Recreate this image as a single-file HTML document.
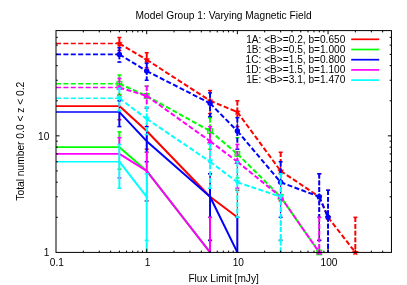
<!DOCTYPE html>
<html><head><meta charset="utf-8"><title>Model Group 1</title>
<style>
html,body{margin:0;padding:0;background:#fff;}
body{width:407px;height:285px;overflow:hidden;}
svg{display:block;font-family:"Liberation Sans",sans-serif;fill:#000;will-change:transform;}
svg line,svg polyline,svg path,svg rect,svg circle{shape-rendering:auto;}
</style></head><body>
<svg width="407" height="285" viewBox="0 0 407 285">
<rect x="0" y="0" width="407" height="285" fill="#fff" stroke="none"/>
<g>
<line x1="56" y1="43.5" x2="119.39" y2="43.5" stroke="#ff0000" stroke-width="1.6" stroke-dasharray="5.0 2.4"/>
<line x1="119.39" y1="43.5" x2="146.69" y2="59.72" stroke="#ff0000" stroke-width="2.0" stroke-dasharray="5.0 2.4"/>
<line x1="146.69" y1="59.72" x2="210.08" y2="100.77" stroke="#ff0000" stroke-width="2.0" stroke-dasharray="5.0 2.4"/>
<line x1="210.08" y1="100.77" x2="237.37" y2="112.06" stroke="#ff0000" stroke-width="2.0" stroke-dasharray="5.0 2.4"/>
<line x1="237.37" y1="112.06" x2="280.64" y2="170.94" stroke="#ff0000" stroke-width="2.0" stroke-dasharray="5.0 2.4"/>
<line x1="280.64" y1="170.94" x2="319.27" y2="196.79" stroke="#ff0000" stroke-width="2.0" stroke-dasharray="5.0 2.4"/>
<line x1="319.27" y1="196.79" x2="328.06" y2="217.32" stroke="#ff0000" stroke-width="2.0" stroke-dasharray="5.0 2.4"/>
<line x1="328.06" y1="217.32" x2="355.36" y2="252.4" stroke="#ff0000" stroke-width="2.0" stroke-dasharray="5.0 2.4"/>
<line x1="119.39" y1="37.45" x2="119.39" y2="50.38" stroke="#ff0000" stroke-width="1.1" stroke-dasharray="4.8 1.9"/>
<line x1="119.39" y1="37.45" x2="119.39" y2="47.69" stroke="#ff0000" stroke-width="1.9" stroke-dasharray="4.8 1.9"/>
<line x1="117.39" y1="37.45" x2="121.39" y2="37.45" stroke="#ff0000" stroke-width="1.5"/>
<line x1="117.39" y1="50.38" x2="121.39" y2="50.38" stroke="#ff0000" stroke-width="1.5"/>
<line x1="146.69" y1="52.69" x2="146.69" y2="67.89" stroke="#ff0000" stroke-width="1.1" stroke-dasharray="4.8 1.9"/>
<line x1="146.69" y1="52.69" x2="146.69" y2="63.21" stroke="#ff0000" stroke-width="1.9" stroke-dasharray="4.8 1.9"/>
<line x1="144.69" y1="52.69" x2="148.69" y2="52.69" stroke="#ff0000" stroke-width="1.5"/>
<line x1="144.69" y1="67.89" x2="148.69" y2="67.89" stroke="#ff0000" stroke-width="1.5"/>
<line x1="210.08" y1="90.55" x2="210.08" y2="113.58" stroke="#ff0000" stroke-width="1.1" stroke-dasharray="4.8 1.9"/>
<line x1="210.08" y1="90.55" x2="210.08" y2="92.91" stroke="#ff0000" stroke-width="1.9" stroke-dasharray="4.8 1.9"/>
<line x1="208.08" y1="90.55" x2="212.08" y2="90.55" stroke="#ff0000" stroke-width="1.5"/>
<line x1="208.08" y1="113.58" x2="212.08" y2="113.58" stroke="#ff0000" stroke-width="1.5"/>
<line x1="237.37" y1="100.77" x2="237.37" y2="126.62" stroke="#ff0000" stroke-width="1.1" stroke-dasharray="4.8 1.9"/>
<line x1="237.37" y1="100.77" x2="237.37" y2="117.69" stroke="#ff0000" stroke-width="1.9" stroke-dasharray="4.8 1.9"/>
<line x1="235.37" y1="100.77" x2="239.37" y2="100.77" stroke="#ff0000" stroke-width="1.5"/>
<line x1="235.37" y1="126.62" x2="239.37" y2="126.62" stroke="#ff0000" stroke-width="1.5"/>
<line x1="280.64" y1="152.23" x2="280.64" y2="200.94" stroke="#ff0000" stroke-width="1.1" stroke-dasharray="4.8 1.9"/>
<line x1="280.64" y1="152.23" x2="280.64" y2="161.71" stroke="#ff0000" stroke-width="1.9" stroke-dasharray="4.8 1.9"/>
<line x1="278.64" y1="152.23" x2="282.64" y2="152.23" stroke="#ff0000" stroke-width="1.5"/>
<line x1="278.64" y1="200.94" x2="282.64" y2="200.94" stroke="#ff0000" stroke-width="1.5"/>
<line x1="319.27" y1="173.72" x2="319.27" y2="240.38" stroke="#ff0000" stroke-width="1.1" stroke-dasharray="4.8 1.9"/>
<line x1="317.27" y1="173.72" x2="321.27" y2="173.72" stroke="#ff0000" stroke-width="1.5"/>
<line x1="317.27" y1="240.38" x2="321.27" y2="240.38" stroke="#ff0000" stroke-width="1.5"/>
<line x1="328.06" y1="190.25" x2="328.06" y2="252.4" stroke="#ff0000" stroke-width="1.1" stroke-dasharray="4.8 1.9"/>
<line x1="326.06" y1="190.25" x2="330.06" y2="190.25" stroke="#ff0000" stroke-width="1.5"/>
<line x1="355.36" y1="217.32" x2="355.36" y2="252.4" stroke="#ff0000" stroke-width="1.1" stroke-dasharray="4.8 1.9"/>
<line x1="355.36" y1="217.32" x2="355.36" y2="252.4" stroke="#ff0000" stroke-width="1.9" stroke-dasharray="4.8 1.9"/>
<line x1="353.36" y1="217.32" x2="357.36" y2="217.32" stroke="#ff0000" stroke-width="1.5"/>
<polygon points="119.39,39.9 120.45,42.05 122.81,42.39 121.1,44.06 121.5,46.41 119.39,45.3 117.27,46.41 117.68,44.06 115.96,42.39 118.33,42.05" fill="#ff0000"/>
<polygon points="146.69,56.12 147.75,58.27 150.11,58.61 148.4,60.28 148.8,62.64 146.69,61.52 144.57,62.64 144.98,60.28 143.26,58.61 145.63,58.27" fill="#ff0000"/>
<polygon points="210.08,97.17 211.13,99.31 213.5,99.66 211.79,101.32 212.19,103.68 210.08,102.57 207.96,103.68 208.36,101.32 206.65,99.66 209.02,99.31" fill="#ff0000"/>
<polygon points="237.37,108.46 238.43,110.61 240.8,110.95 239.09,112.62 239.49,114.98 237.37,113.86 235.26,114.98 235.66,112.62 233.95,110.95 236.32,110.61" fill="#ff0000"/>
<polygon points="280.64,167.34 281.7,169.48 284.07,169.82 282.36,171.49 282.76,173.85 280.64,172.74 278.53,173.85 278.93,171.49 277.22,169.82 279.59,169.48" fill="#ff0000"/>
<polygon points="319.27,193.19 320.33,195.34 322.7,195.68 320.99,197.35 321.39,199.71 319.27,198.59 317.16,199.71 317.56,197.35 315.85,195.68 318.22,195.34" fill="#ff0000"/>
<polygon points="328.06,213.72 329.12,215.86 331.49,216.2 329.77,217.87 330.18,220.23 328.06,219.12 325.95,220.23 326.35,217.87 324.64,216.2 327,215.86" fill="#ff0000"/>
<polygon points="355.36,248.8 356.42,250.94 358.79,251.29 357.07,252.96 357.48,255.31 355.36,254.2 353.25,255.31 353.65,252.96 351.94,251.29 354.3,250.94" fill="#ff0000"/>
<line x1="56" y1="106.1" x2="119.89" y2="106.1" stroke="#ff0000" stroke-width="1.6"/>
<polyline points="119.39,106.1 146.69,131.03 210.08,196.79 237.37,217.32" fill="none" stroke="#ff0000" stroke-width="2.0" stroke-linejoin="round"/>
<line x1="119.39" y1="95.39" x2="119.39" y2="119.71" stroke="#ff0000" stroke-width="1.1"/>
<line x1="117.39" y1="95.39" x2="121.39" y2="95.39" stroke="#ff0000" stroke-width="1.5"/>
<line x1="117.39" y1="119.71" x2="121.39" y2="119.71" stroke="#ff0000" stroke-width="1.5"/>
<line x1="146.69" y1="117.69" x2="146.69" y2="149.19" stroke="#ff0000" stroke-width="1.1"/>
<line x1="144.69" y1="117.69" x2="148.69" y2="117.69" stroke="#ff0000" stroke-width="1.5"/>
<line x1="144.69" y1="149.19" x2="148.69" y2="149.19" stroke="#ff0000" stroke-width="1.5"/>
<line x1="210.08" y1="173.72" x2="210.08" y2="240.38" stroke="#ff0000" stroke-width="1.1"/>
<line x1="208.08" y1="173.72" x2="212.08" y2="173.72" stroke="#ff0000" stroke-width="1.5"/>
<line x1="208.08" y1="240.38" x2="212.08" y2="240.38" stroke="#ff0000" stroke-width="1.5"/>
<line x1="237.37" y1="190.25" x2="237.37" y2="252.4" stroke="#ff0000" stroke-width="1.1"/>
<line x1="235.37" y1="190.25" x2="239.37" y2="190.25" stroke="#ff0000" stroke-width="1.5"/>
<line x1="56" y1="83.74" x2="119.39" y2="83.74" stroke="#00ff00" stroke-width="1.6" stroke-dasharray="5.0 2.4"/>
<line x1="119.39" y1="83.74" x2="146.69" y2="95.94" stroke="#00ff00" stroke-width="2.0" stroke-dasharray="5.0 2.4"/>
<line x1="146.69" y1="95.94" x2="210.08" y2="131.03" stroke="#00ff00" stroke-width="2.0" stroke-dasharray="5.0 2.4"/>
<line x1="210.08" y1="131.03" x2="237.37" y2="153.91" stroke="#00ff00" stroke-width="2.0" stroke-dasharray="5.0 2.4"/>
<line x1="237.37" y1="153.91" x2="280.64" y2="196.79" stroke="#00ff00" stroke-width="2.0" stroke-dasharray="5.0 2.4"/>
<line x1="280.64" y1="196.79" x2="319.27" y2="252.4" stroke="#00ff00" stroke-width="2.0" stroke-dasharray="5.0 2.4" stroke-dashoffset="3.8"/>
<line x1="119.39" y1="74.98" x2="119.39" y2="94.34" stroke="#00ff00" stroke-width="1.1" stroke-dasharray="4.8 1.9"/>
<line x1="119.39" y1="74.98" x2="119.39" y2="78.42" stroke="#00ff00" stroke-width="1.9" stroke-dasharray="4.8 1.9"/>
<line x1="117.39" y1="74.98" x2="121.39" y2="74.98" stroke="#00ff00" stroke-width="1.5"/>
<line x1="117.39" y1="94.34" x2="121.39" y2="94.34" stroke="#00ff00" stroke-width="1.5"/>
<line x1="146.69" y1="86.16" x2="146.69" y2="108.08" stroke="#00ff00" stroke-width="1.1" stroke-dasharray="4.8 1.9"/>
<line x1="144.69" y1="86.16" x2="148.69" y2="86.16" stroke="#00ff00" stroke-width="1.5"/>
<line x1="144.69" y1="108.08" x2="148.69" y2="108.08" stroke="#00ff00" stroke-width="1.5"/>
<line x1="210.08" y1="117.69" x2="210.08" y2="149.19" stroke="#00ff00" stroke-width="1.1" stroke-dasharray="4.8 1.9"/>
<line x1="210.08" y1="117.69" x2="210.08" y2="126.62" stroke="#00ff00" stroke-width="1.9" stroke-dasharray="4.8 1.9"/>
<line x1="208.08" y1="117.69" x2="212.08" y2="117.69" stroke="#00ff00" stroke-width="1.5"/>
<line x1="208.08" y1="149.19" x2="212.08" y2="149.19" stroke="#00ff00" stroke-width="1.5"/>
<line x1="237.37" y1="137.68" x2="237.37" y2="177.94" stroke="#00ff00" stroke-width="1.1" stroke-dasharray="4.8 1.9"/>
<line x1="235.37" y1="137.68" x2="239.37" y2="137.68" stroke="#00ff00" stroke-width="1.5"/>
<line x1="235.37" y1="177.94" x2="239.37" y2="177.94" stroke="#00ff00" stroke-width="1.5"/>
<line x1="280.64" y1="173.72" x2="280.64" y2="240.38" stroke="#00ff00" stroke-width="1.1" stroke-dasharray="4.8 1.9"/>
<line x1="278.64" y1="173.72" x2="282.64" y2="173.72" stroke="#00ff00" stroke-width="1.5"/>
<line x1="278.64" y1="240.38" x2="282.64" y2="240.38" stroke="#00ff00" stroke-width="1.5"/>
<line x1="319.27" y1="217.32" x2="319.27" y2="252.4" stroke="#00ff00" stroke-width="1.1" stroke-dasharray="4.8 1.9"/>
<line x1="317.27" y1="217.32" x2="321.27" y2="217.32" stroke="#00ff00" stroke-width="1.5"/>
<rect x="117.09" y="81.44" width="4.6" height="4.6" stroke="#00ff00" stroke-width="1.3" fill="none"/>
<rect x="144.39" y="93.64" width="4.6" height="4.6" stroke="#00ff00" stroke-width="1.3" fill="none"/>
<rect x="207.78" y="128.73" width="4.6" height="4.6" stroke="#00ff00" stroke-width="1.3" fill="none"/>
<rect x="235.07" y="151.61" width="4.6" height="4.6" stroke="#00ff00" stroke-width="1.3" fill="none"/>
<rect x="278.34" y="194.49" width="4.6" height="4.6" stroke="#00ff00" stroke-width="1.3" fill="none"/>
<rect x="316.97" y="250.1" width="4.6" height="4.6" stroke="#00ff00" stroke-width="1.3" fill="none"/>
<line x1="56" y1="147.15" x2="119.89" y2="147.15" stroke="#00ff00" stroke-width="1.6"/>
<polyline points="119.39,147.15 146.69,170.94 210.08,252.4" fill="none" stroke="#00ff00" stroke-width="2.0" stroke-linejoin="round"/>
<line x1="119.39" y1="131.82" x2="119.39" y2="169.23" stroke="#00ff00" stroke-width="1.1"/>
<line x1="119.39" y1="131.82" x2="119.39" y2="137.68" stroke="#00ff00" stroke-width="1.9"/>
<line x1="117.39" y1="131.82" x2="121.39" y2="131.82" stroke="#00ff00" stroke-width="1.5"/>
<line x1="117.39" y1="169.23" x2="121.39" y2="169.23" stroke="#00ff00" stroke-width="1.5"/>
<line x1="146.69" y1="152.23" x2="146.69" y2="200.94" stroke="#00ff00" stroke-width="1.1"/>
<line x1="144.69" y1="152.23" x2="148.69" y2="152.23" stroke="#00ff00" stroke-width="1.5"/>
<line x1="144.69" y1="200.94" x2="148.69" y2="200.94" stroke="#00ff00" stroke-width="1.5"/>
<line x1="210.08" y1="217.32" x2="210.08" y2="252.4" stroke="#00ff00" stroke-width="1.1"/>
<line x1="208.08" y1="217.32" x2="212.08" y2="217.32" stroke="#00ff00" stroke-width="1.5"/>
<line x1="56" y1="54.39" x2="119.39" y2="54.39" stroke="#0000ff" stroke-width="1.6" stroke-dasharray="5.0 2.4"/>
<line x1="119.39" y1="54.39" x2="146.69" y2="71.02" stroke="#0000ff" stroke-width="2.0" stroke-dasharray="5.0 2.4"/>
<line x1="146.69" y1="71.02" x2="210.08" y2="103.36" stroke="#0000ff" stroke-width="2.0" stroke-dasharray="5.0 2.4"/>
<line x1="210.08" y1="103.36" x2="237.37" y2="131.03" stroke="#0000ff" stroke-width="2.0" stroke-dasharray="5.0 2.4"/>
<line x1="237.37" y1="131.03" x2="280.64" y2="182.23" stroke="#0000ff" stroke-width="2.0" stroke-dasharray="5.0 2.4"/>
<line x1="280.64" y1="182.23" x2="319.27" y2="196.79" stroke="#0000ff" stroke-width="2.0" stroke-dasharray="5.0 2.4"/>
<line x1="319.27" y1="196.79" x2="328.06" y2="217.32" stroke="#0000ff" stroke-width="2.0" stroke-dasharray="5.0 2.4"/>
<line x1="119.39" y1="47.69" x2="119.39" y2="62.11" stroke="#0000ff" stroke-width="1.1" stroke-dasharray="4.8 1.9"/>
<line x1="119.39" y1="47.69" x2="119.39" y2="62.11" stroke="#0000ff" stroke-width="1.9" stroke-dasharray="4.8 1.9"/>
<line x1="117.39" y1="47.69" x2="121.39" y2="47.69" stroke="#0000ff" stroke-width="1.5"/>
<line x1="117.39" y1="62.11" x2="121.39" y2="62.11" stroke="#0000ff" stroke-width="1.5"/>
<line x1="146.69" y1="63.21" x2="146.69" y2="80.25" stroke="#0000ff" stroke-width="1.1" stroke-dasharray="4.8 1.9"/>
<line x1="146.69" y1="63.21" x2="146.69" y2="80.25" stroke="#0000ff" stroke-width="1.9" stroke-dasharray="4.8 1.9"/>
<line x1="144.69" y1="63.21" x2="148.69" y2="63.21" stroke="#0000ff" stroke-width="1.5"/>
<line x1="144.69" y1="80.25" x2="148.69" y2="80.25" stroke="#0000ff" stroke-width="1.5"/>
<line x1="210.08" y1="92.91" x2="210.08" y2="116.56" stroke="#0000ff" stroke-width="1.1" stroke-dasharray="4.8 1.9"/>
<line x1="210.08" y1="92.91" x2="210.08" y2="116.56" stroke="#0000ff" stroke-width="1.9" stroke-dasharray="4.8 1.9"/>
<line x1="208.08" y1="92.91" x2="212.08" y2="92.91" stroke="#0000ff" stroke-width="1.5"/>
<line x1="208.08" y1="116.56" x2="212.08" y2="116.56" stroke="#0000ff" stroke-width="1.5"/>
<line x1="237.37" y1="117.69" x2="237.37" y2="149.19" stroke="#0000ff" stroke-width="1.1" stroke-dasharray="4.8 1.9"/>
<line x1="237.37" y1="117.69" x2="237.37" y2="144.38" stroke="#0000ff" stroke-width="1.9" stroke-dasharray="4.8 1.9"/>
<line x1="235.37" y1="117.69" x2="239.37" y2="117.69" stroke="#0000ff" stroke-width="1.5"/>
<line x1="235.37" y1="149.19" x2="239.37" y2="149.19" stroke="#0000ff" stroke-width="1.5"/>
<line x1="280.64" y1="161.71" x2="280.64" y2="217.32" stroke="#0000ff" stroke-width="1.1" stroke-dasharray="4.8 1.9"/>
<line x1="280.64" y1="161.71" x2="280.64" y2="173.72" stroke="#0000ff" stroke-width="1.9" stroke-dasharray="4.8 1.9"/>
<line x1="278.64" y1="161.71" x2="282.64" y2="161.71" stroke="#0000ff" stroke-width="1.5"/>
<line x1="278.64" y1="217.32" x2="282.64" y2="217.32" stroke="#0000ff" stroke-width="1.5"/>
<line x1="319.27" y1="173.72" x2="319.27" y2="240.38" stroke="#0000ff" stroke-width="1.1" stroke-dasharray="4.8 1.9"/>
<line x1="319.27" y1="173.72" x2="319.27" y2="217.32" stroke="#0000ff" stroke-width="1.9" stroke-dasharray="4.8 1.9"/>
<line x1="317.27" y1="173.72" x2="321.27" y2="173.72" stroke="#0000ff" stroke-width="1.5"/>
<line x1="317.27" y1="240.38" x2="321.27" y2="240.38" stroke="#0000ff" stroke-width="1.5"/>
<line x1="328.06" y1="190.25" x2="328.06" y2="252.4" stroke="#0000ff" stroke-width="1.1" stroke-dasharray="4.8 1.9"/>
<line x1="328.06" y1="190.25" x2="328.06" y2="252.4" stroke="#0000ff" stroke-width="1.9" stroke-dasharray="4.8 1.9"/>
<line x1="326.06" y1="190.25" x2="330.06" y2="190.25" stroke="#0000ff" stroke-width="1.5"/>
<circle cx="119.39" cy="54.39" r="2.7" fill="#0000ff"/>
<circle cx="146.69" cy="71.02" r="2.7" fill="#0000ff"/>
<circle cx="210.08" cy="103.36" r="2.7" fill="#0000ff"/>
<circle cx="237.37" cy="131.03" r="2.7" fill="#0000ff"/>
<circle cx="280.64" cy="182.23" r="2.7" fill="#0000ff"/>
<circle cx="319.27" cy="196.79" r="2.7" fill="#0000ff"/>
<circle cx="328.06" cy="217.32" r="2.7" fill="#0000ff"/>
<line x1="56" y1="112.06" x2="119.89" y2="112.06" stroke="#0000ff" stroke-width="1.6"/>
<polyline points="119.39,112.06 146.69,141.19 210.08,196.79 237.37,252.4" fill="none" stroke="#0000ff" stroke-width="2.0" stroke-linejoin="round"/>
<line x1="119.39" y1="100.77" x2="119.39" y2="126.62" stroke="#0000ff" stroke-width="1.1"/>
<line x1="119.39" y1="110.76" x2="119.39" y2="126.62" stroke="#0000ff" stroke-width="1.9"/>
<line x1="117.39" y1="100.77" x2="121.39" y2="100.77" stroke="#0000ff" stroke-width="1.5"/>
<line x1="117.39" y1="126.62" x2="121.39" y2="126.62" stroke="#0000ff" stroke-width="1.5"/>
<line x1="146.69" y1="126.62" x2="146.69" y2="161.71" stroke="#0000ff" stroke-width="1.1"/>
<line x1="146.69" y1="134.56" x2="146.69" y2="152.23" stroke="#0000ff" stroke-width="1.9"/>
<line x1="144.69" y1="126.62" x2="148.69" y2="126.62" stroke="#0000ff" stroke-width="1.5"/>
<line x1="144.69" y1="161.71" x2="148.69" y2="161.71" stroke="#0000ff" stroke-width="1.5"/>
<line x1="210.08" y1="173.72" x2="210.08" y2="240.38" stroke="#0000ff" stroke-width="1.1"/>
<line x1="210.08" y1="188.27" x2="210.08" y2="217.32" stroke="#0000ff" stroke-width="1.9"/>
<line x1="208.08" y1="173.72" x2="212.08" y2="173.72" stroke="#0000ff" stroke-width="1.5"/>
<line x1="208.08" y1="240.38" x2="212.08" y2="240.38" stroke="#0000ff" stroke-width="1.5"/>
<line x1="237.37" y1="217.32" x2="237.37" y2="252.4" stroke="#0000ff" stroke-width="1.1"/>
<line x1="237.37" y1="217.32" x2="237.37" y2="252.4" stroke="#0000ff" stroke-width="1.9"/>
<line x1="235.37" y1="217.32" x2="239.37" y2="217.32" stroke="#0000ff" stroke-width="1.5"/>
<line x1="56" y1="87.49" x2="119.39" y2="87.49" stroke="#ff00ff" stroke-width="1.6" stroke-dasharray="5.0 2.4"/>
<line x1="119.39" y1="87.49" x2="146.69" y2="95.94" stroke="#ff00ff" stroke-width="2.0" stroke-dasharray="5.0 2.4"/>
<line x1="146.69" y1="95.94" x2="210.08" y2="141.19" stroke="#ff00ff" stroke-width="2.0" stroke-dasharray="5.0 2.4"/>
<line x1="210.08" y1="141.19" x2="237.37" y2="161.71" stroke="#ff00ff" stroke-width="2.0" stroke-dasharray="5.0 2.4"/>
<line x1="237.37" y1="161.71" x2="280.64" y2="196.79" stroke="#ff00ff" stroke-width="2.0" stroke-dasharray="5.0 2.4"/>
<line x1="280.64" y1="196.79" x2="319.27" y2="252.4" stroke="#ff00ff" stroke-width="2.0" stroke-dasharray="5.0 2.4"/>
<line x1="119.39" y1="78.42" x2="119.39" y2="98.54" stroke="#ff00ff" stroke-width="1.1" stroke-dasharray="4.8 1.9"/>
<line x1="119.39" y1="78.42" x2="119.39" y2="88.31" stroke="#ff00ff" stroke-width="1.9" stroke-dasharray="4.8 1.9"/>
<line x1="117.39" y1="78.42" x2="121.39" y2="78.42" stroke="#ff00ff" stroke-width="1.5"/>
<line x1="117.39" y1="98.54" x2="121.39" y2="98.54" stroke="#ff00ff" stroke-width="1.5"/>
<line x1="146.69" y1="86.16" x2="146.69" y2="108.08" stroke="#ff00ff" stroke-width="1.1" stroke-dasharray="4.8 1.9"/>
<line x1="146.69" y1="86.16" x2="146.69" y2="106.83" stroke="#ff00ff" stroke-width="1.9" stroke-dasharray="4.8 1.9"/>
<line x1="144.69" y1="86.16" x2="148.69" y2="86.16" stroke="#ff00ff" stroke-width="1.5"/>
<line x1="144.69" y1="108.08" x2="148.69" y2="108.08" stroke="#ff00ff" stroke-width="1.5"/>
<line x1="210.08" y1="126.62" x2="210.08" y2="161.71" stroke="#ff00ff" stroke-width="1.1" stroke-dasharray="4.8 1.9"/>
<line x1="210.08" y1="126.62" x2="210.08" y2="144.38" stroke="#ff00ff" stroke-width="1.9" stroke-dasharray="4.8 1.9"/>
<line x1="208.08" y1="126.62" x2="212.08" y2="126.62" stroke="#ff00ff" stroke-width="1.5"/>
<line x1="208.08" y1="161.71" x2="212.08" y2="161.71" stroke="#ff00ff" stroke-width="1.5"/>
<line x1="237.37" y1="144.38" x2="237.37" y2="188.27" stroke="#ff00ff" stroke-width="1.1" stroke-dasharray="4.8 1.9"/>
<line x1="237.37" y1="144.38" x2="237.37" y2="161.71" stroke="#ff00ff" stroke-width="1.9" stroke-dasharray="4.8 1.9"/>
<line x1="235.37" y1="144.38" x2="239.37" y2="144.38" stroke="#ff00ff" stroke-width="1.5"/>
<line x1="235.37" y1="188.27" x2="239.37" y2="188.27" stroke="#ff00ff" stroke-width="1.5"/>
<line x1="280.64" y1="173.72" x2="280.64" y2="240.38" stroke="#ff00ff" stroke-width="1.1" stroke-dasharray="4.8 1.9"/>
<line x1="278.64" y1="173.72" x2="282.64" y2="173.72" stroke="#ff00ff" stroke-width="1.5"/>
<line x1="278.64" y1="240.38" x2="282.64" y2="240.38" stroke="#ff00ff" stroke-width="1.5"/>
<line x1="319.27" y1="217.32" x2="319.27" y2="252.4" stroke="#ff00ff" stroke-width="1.1" stroke-dasharray="4.8 1.9"/>
<line x1="319.27" y1="217.32" x2="319.27" y2="252.4" stroke="#ff00ff" stroke-width="1.9" stroke-dasharray="4.8 1.9"/>
<line x1="317.27" y1="217.32" x2="321.27" y2="217.32" stroke="#ff00ff" stroke-width="1.5"/>
<path d="M119.39 83.59 L116.29 89.69 L122.49 89.69 Z" fill="#ff00ff"/>
<path d="M146.69 92.04 L143.59 98.14 L149.79 98.14 Z" fill="#ff00ff"/>
<path d="M210.08 137.29 L206.98 143.39 L213.18 143.39 Z" fill="#ff00ff"/>
<path d="M237.37 157.81 L234.27 163.91 L240.47 163.91 Z" fill="#ff00ff"/>
<path d="M280.64 192.89 L277.54 198.99 L283.74 198.99 Z" fill="#ff00ff"/>
<path d="M319.27 248.5 L316.17 254.6 L322.37 254.6 Z" fill="#ff00ff"/>
<line x1="56" y1="153.91" x2="119.89" y2="153.91" stroke="#ff00ff" stroke-width="1.6"/>
<polyline points="119.39,153.91 146.69,170.94 210.08,252.4" fill="none" stroke="#ff00ff" stroke-width="2.0" stroke-linejoin="round"/>
<line x1="119.39" y1="137.68" x2="119.39" y2="177.94" stroke="#ff00ff" stroke-width="1.1"/>
<line x1="119.39" y1="137.68" x2="119.39" y2="144.38" stroke="#ff00ff" stroke-width="1.9"/>
<line x1="117.39" y1="137.68" x2="121.39" y2="137.68" stroke="#ff00ff" stroke-width="1.5"/>
<line x1="117.39" y1="177.94" x2="121.39" y2="177.94" stroke="#ff00ff" stroke-width="1.5"/>
<line x1="146.69" y1="152.23" x2="146.69" y2="200.94" stroke="#ff00ff" stroke-width="1.1"/>
<line x1="146.69" y1="152.23" x2="146.69" y2="173.72" stroke="#ff00ff" stroke-width="1.9"/>
<line x1="144.69" y1="152.23" x2="148.69" y2="152.23" stroke="#ff00ff" stroke-width="1.5"/>
<line x1="144.69" y1="200.94" x2="148.69" y2="200.94" stroke="#ff00ff" stroke-width="1.5"/>
<line x1="210.08" y1="217.32" x2="210.08" y2="252.4" stroke="#ff00ff" stroke-width="1.1"/>
<line x1="210.08" y1="217.32" x2="210.08" y2="252.4" stroke="#ff00ff" stroke-width="1.9"/>
<line x1="208.08" y1="217.32" x2="212.08" y2="217.32" stroke="#ff00ff" stroke-width="1.5"/>
<line x1="56" y1="98.3" x2="119.39" y2="98.3" stroke="#00ffff" stroke-width="1.6" stroke-dasharray="5.0 2.4"/>
<line x1="119.39" y1="98.3" x2="146.69" y2="118.82" stroke="#00ffff" stroke-width="2.0" stroke-dasharray="5.0 2.4"/>
<line x1="146.69" y1="118.82" x2="210.08" y2="161.71" stroke="#00ffff" stroke-width="2.0" stroke-dasharray="5.0 2.4"/>
<line x1="210.08" y1="161.71" x2="237.37" y2="182.23" stroke="#00ffff" stroke-width="2.0" stroke-dasharray="5.0 2.4"/>
<line x1="237.37" y1="182.23" x2="280.64" y2="196.79" stroke="#00ffff" stroke-width="2.0" stroke-dasharray="5.0 2.4"/>
<line x1="119.39" y1="88.31" x2="119.39" y2="110.76" stroke="#00ffff" stroke-width="1.1" stroke-dasharray="4.8 1.9"/>
<line x1="119.39" y1="88.31" x2="119.39" y2="110.76" stroke="#00ffff" stroke-width="1.9" stroke-dasharray="4.8 1.9"/>
<line x1="117.39" y1="88.31" x2="121.39" y2="88.31" stroke="#00ffff" stroke-width="1.5"/>
<line x1="117.39" y1="110.76" x2="121.39" y2="110.76" stroke="#00ffff" stroke-width="1.5"/>
<line x1="146.69" y1="106.83" x2="146.69" y2="134.56" stroke="#00ffff" stroke-width="1.1" stroke-dasharray="4.8 1.9"/>
<line x1="146.69" y1="106.83" x2="146.69" y2="134.56" stroke="#00ffff" stroke-width="1.9" stroke-dasharray="4.8 1.9"/>
<line x1="144.69" y1="106.83" x2="148.69" y2="106.83" stroke="#00ffff" stroke-width="1.5"/>
<line x1="144.69" y1="134.56" x2="148.69" y2="134.56" stroke="#00ffff" stroke-width="1.5"/>
<line x1="210.08" y1="144.38" x2="210.08" y2="188.27" stroke="#00ffff" stroke-width="1.1" stroke-dasharray="4.8 1.9"/>
<line x1="210.08" y1="144.38" x2="210.08" y2="188.27" stroke="#00ffff" stroke-width="1.9" stroke-dasharray="4.8 1.9"/>
<line x1="208.08" y1="144.38" x2="212.08" y2="144.38" stroke="#00ffff" stroke-width="1.5"/>
<line x1="208.08" y1="188.27" x2="212.08" y2="188.27" stroke="#00ffff" stroke-width="1.5"/>
<line x1="237.37" y1="161.71" x2="237.37" y2="217.32" stroke="#00ffff" stroke-width="1.1" stroke-dasharray="4.8 1.9"/>
<line x1="237.37" y1="161.71" x2="237.37" y2="217.32" stroke="#00ffff" stroke-width="1.9" stroke-dasharray="4.8 1.9"/>
<line x1="235.37" y1="161.71" x2="239.37" y2="161.71" stroke="#00ffff" stroke-width="1.5"/>
<line x1="235.37" y1="217.32" x2="239.37" y2="217.32" stroke="#00ffff" stroke-width="1.5"/>
<line x1="280.64" y1="173.72" x2="280.64" y2="252.4" stroke="#00ffff" stroke-width="1.1" stroke-dasharray="4.8 1.9"/>
<line x1="280.64" y1="173.72" x2="280.64" y2="252.4" stroke="#00ffff" stroke-width="1.9" stroke-dasharray="4.8 1.9"/>
<line x1="278.64" y1="173.72" x2="282.64" y2="173.72" stroke="#00ffff" stroke-width="1.5"/>
<line x1="278.64" y1="240.38" x2="282.64" y2="240.38" stroke="#00ffff" stroke-width="1.5"/>
<path d="M119.39 101.6 L116.29 96.2 L122.49 96.2 Z" fill="#00ffff"/>
<path d="M146.69 122.12 L143.59 116.72 L149.79 116.72 Z" fill="#00ffff"/>
<path d="M210.08 165.01 L206.98 159.61 L213.18 159.61 Z" fill="#00ffff"/>
<path d="M237.37 185.53 L234.27 180.13 L240.47 180.13 Z" fill="#00ffff"/>
<path d="M280.64 200.09 L277.54 194.69 L283.74 194.69 Z" fill="#00ffff"/>
<line x1="56" y1="161.71" x2="119.89" y2="161.71" stroke="#00ffff" stroke-width="1.6"/>
<polyline points="119.39,161.71 146.69,196.79" fill="none" stroke="#00ffff" stroke-width="2.0" stroke-linejoin="round"/>
<line x1="119.39" y1="144.38" x2="119.39" y2="188.27" stroke="#00ffff" stroke-width="1.1"/>
<line x1="119.39" y1="144.38" x2="119.39" y2="188.27" stroke="#00ffff" stroke-width="1.9"/>
<line x1="117.39" y1="144.38" x2="121.39" y2="144.38" stroke="#00ffff" stroke-width="1.5"/>
<line x1="117.39" y1="188.27" x2="121.39" y2="188.27" stroke="#00ffff" stroke-width="1.5"/>
<line x1="146.69" y1="173.72" x2="146.69" y2="252.4" stroke="#00ffff" stroke-width="1.1"/>
<line x1="146.69" y1="173.72" x2="146.69" y2="252.4" stroke="#00ffff" stroke-width="1.9"/>
<line x1="144.69" y1="173.72" x2="148.69" y2="173.72" stroke="#00ffff" stroke-width="1.5"/>
<line x1="144.69" y1="240.38" x2="148.69" y2="240.38" stroke="#00ffff" stroke-width="1.5"/>
</g>
<g>
<line x1="83.3" y1="252.4" x2="83.3" y2="250.6" stroke="#000" stroke-width="1"/>
<line x1="83.3" y1="30.6" x2="83.3" y2="32.4" stroke="#000" stroke-width="1"/>
<line x1="99.27" y1="252.4" x2="99.27" y2="250.6" stroke="#000" stroke-width="1"/>
<line x1="99.27" y1="30.6" x2="99.27" y2="32.4" stroke="#000" stroke-width="1"/>
<line x1="110.6" y1="252.4" x2="110.6" y2="250.6" stroke="#000" stroke-width="1"/>
<line x1="110.6" y1="30.6" x2="110.6" y2="32.4" stroke="#000" stroke-width="1"/>
<line x1="119.39" y1="252.4" x2="119.39" y2="250.6" stroke="#000" stroke-width="1"/>
<line x1="119.39" y1="30.6" x2="119.39" y2="32.4" stroke="#000" stroke-width="1"/>
<line x1="126.57" y1="252.4" x2="126.57" y2="250.6" stroke="#000" stroke-width="1"/>
<line x1="126.57" y1="30.6" x2="126.57" y2="32.4" stroke="#000" stroke-width="1"/>
<line x1="132.64" y1="252.4" x2="132.64" y2="250.6" stroke="#000" stroke-width="1"/>
<line x1="132.64" y1="30.6" x2="132.64" y2="32.4" stroke="#000" stroke-width="1"/>
<line x1="137.9" y1="252.4" x2="137.9" y2="250.6" stroke="#000" stroke-width="1"/>
<line x1="137.9" y1="30.6" x2="137.9" y2="32.4" stroke="#000" stroke-width="1"/>
<line x1="142.54" y1="252.4" x2="142.54" y2="250.6" stroke="#000" stroke-width="1"/>
<line x1="142.54" y1="30.6" x2="142.54" y2="32.4" stroke="#000" stroke-width="1"/>
<line x1="146.69" y1="252.4" x2="146.69" y2="248.8" stroke="#000" stroke-width="1"/>
<line x1="146.69" y1="30.6" x2="146.69" y2="34.2" stroke="#000" stroke-width="1"/>
<line x1="173.99" y1="252.4" x2="173.99" y2="250.6" stroke="#000" stroke-width="1"/>
<line x1="173.99" y1="30.6" x2="173.99" y2="32.4" stroke="#000" stroke-width="1"/>
<line x1="189.96" y1="252.4" x2="189.96" y2="250.6" stroke="#000" stroke-width="1"/>
<line x1="189.96" y1="30.6" x2="189.96" y2="32.4" stroke="#000" stroke-width="1"/>
<line x1="201.29" y1="252.4" x2="201.29" y2="250.6" stroke="#000" stroke-width="1"/>
<line x1="201.29" y1="30.6" x2="201.29" y2="32.4" stroke="#000" stroke-width="1"/>
<line x1="210.08" y1="252.4" x2="210.08" y2="250.6" stroke="#000" stroke-width="1"/>
<line x1="210.08" y1="30.6" x2="210.08" y2="32.4" stroke="#000" stroke-width="1"/>
<line x1="217.26" y1="252.4" x2="217.26" y2="250.6" stroke="#000" stroke-width="1"/>
<line x1="217.26" y1="30.6" x2="217.26" y2="32.4" stroke="#000" stroke-width="1"/>
<line x1="223.33" y1="252.4" x2="223.33" y2="250.6" stroke="#000" stroke-width="1"/>
<line x1="223.33" y1="30.6" x2="223.33" y2="32.4" stroke="#000" stroke-width="1"/>
<line x1="228.59" y1="252.4" x2="228.59" y2="250.6" stroke="#000" stroke-width="1"/>
<line x1="228.59" y1="30.6" x2="228.59" y2="32.4" stroke="#000" stroke-width="1"/>
<line x1="233.23" y1="252.4" x2="233.23" y2="250.6" stroke="#000" stroke-width="1"/>
<line x1="233.23" y1="30.6" x2="233.23" y2="32.4" stroke="#000" stroke-width="1"/>
<line x1="237.37" y1="252.4" x2="237.37" y2="248.8" stroke="#000" stroke-width="1"/>
<line x1="237.37" y1="30.6" x2="237.37" y2="34.2" stroke="#000" stroke-width="1"/>
<line x1="264.67" y1="252.4" x2="264.67" y2="250.6" stroke="#000" stroke-width="1"/>
<line x1="264.67" y1="30.6" x2="264.67" y2="32.4" stroke="#000" stroke-width="1"/>
<line x1="280.64" y1="252.4" x2="280.64" y2="250.6" stroke="#000" stroke-width="1"/>
<line x1="280.64" y1="30.6" x2="280.64" y2="32.4" stroke="#000" stroke-width="1"/>
<line x1="291.97" y1="252.4" x2="291.97" y2="250.6" stroke="#000" stroke-width="1"/>
<line x1="291.97" y1="30.6" x2="291.97" y2="32.4" stroke="#000" stroke-width="1"/>
<line x1="300.76" y1="252.4" x2="300.76" y2="250.6" stroke="#000" stroke-width="1"/>
<line x1="300.76" y1="30.6" x2="300.76" y2="32.4" stroke="#000" stroke-width="1"/>
<line x1="307.94" y1="252.4" x2="307.94" y2="250.6" stroke="#000" stroke-width="1"/>
<line x1="307.94" y1="30.6" x2="307.94" y2="32.4" stroke="#000" stroke-width="1"/>
<line x1="314.01" y1="252.4" x2="314.01" y2="250.6" stroke="#000" stroke-width="1"/>
<line x1="314.01" y1="30.6" x2="314.01" y2="32.4" stroke="#000" stroke-width="1"/>
<line x1="319.27" y1="252.4" x2="319.27" y2="250.6" stroke="#000" stroke-width="1"/>
<line x1="319.27" y1="30.6" x2="319.27" y2="32.4" stroke="#000" stroke-width="1"/>
<line x1="323.91" y1="252.4" x2="323.91" y2="250.6" stroke="#000" stroke-width="1"/>
<line x1="323.91" y1="30.6" x2="323.91" y2="32.4" stroke="#000" stroke-width="1"/>
<line x1="328.06" y1="252.4" x2="328.06" y2="248.8" stroke="#000" stroke-width="1"/>
<line x1="328.06" y1="30.6" x2="328.06" y2="34.2" stroke="#000" stroke-width="1"/>
<line x1="355.36" y1="252.4" x2="355.36" y2="250.6" stroke="#000" stroke-width="1"/>
<line x1="355.36" y1="30.6" x2="355.36" y2="32.4" stroke="#000" stroke-width="1"/>
<line x1="371.33" y1="252.4" x2="371.33" y2="250.6" stroke="#000" stroke-width="1"/>
<line x1="371.33" y1="30.6" x2="371.33" y2="32.4" stroke="#000" stroke-width="1"/>
<line x1="382.66" y1="252.4" x2="382.66" y2="250.6" stroke="#000" stroke-width="1"/>
<line x1="382.66" y1="30.6" x2="382.66" y2="32.4" stroke="#000" stroke-width="1"/>
<line x1="56" y1="217.32" x2="57.8" y2="217.32" stroke="#000" stroke-width="1"/>
<line x1="391.45" y1="217.32" x2="389.65" y2="217.32" stroke="#000" stroke-width="1"/>
<line x1="56" y1="196.79" x2="57.8" y2="196.79" stroke="#000" stroke-width="1"/>
<line x1="391.45" y1="196.79" x2="389.65" y2="196.79" stroke="#000" stroke-width="1"/>
<line x1="56" y1="182.23" x2="57.8" y2="182.23" stroke="#000" stroke-width="1"/>
<line x1="391.45" y1="182.23" x2="389.65" y2="182.23" stroke="#000" stroke-width="1"/>
<line x1="56" y1="170.94" x2="57.8" y2="170.94" stroke="#000" stroke-width="1"/>
<line x1="391.45" y1="170.94" x2="389.65" y2="170.94" stroke="#000" stroke-width="1"/>
<line x1="56" y1="161.71" x2="57.8" y2="161.71" stroke="#000" stroke-width="1"/>
<line x1="391.45" y1="161.71" x2="389.65" y2="161.71" stroke="#000" stroke-width="1"/>
<line x1="56" y1="153.91" x2="57.8" y2="153.91" stroke="#000" stroke-width="1"/>
<line x1="391.45" y1="153.91" x2="389.65" y2="153.91" stroke="#000" stroke-width="1"/>
<line x1="56" y1="147.15" x2="57.8" y2="147.15" stroke="#000" stroke-width="1"/>
<line x1="391.45" y1="147.15" x2="389.65" y2="147.15" stroke="#000" stroke-width="1"/>
<line x1="56" y1="141.19" x2="57.8" y2="141.19" stroke="#000" stroke-width="1"/>
<line x1="391.45" y1="141.19" x2="389.65" y2="141.19" stroke="#000" stroke-width="1"/>
<line x1="56" y1="135.85" x2="59.6" y2="135.85" stroke="#000" stroke-width="1"/>
<line x1="391.45" y1="135.85" x2="387.85" y2="135.85" stroke="#000" stroke-width="1"/>
<line x1="56" y1="100.77" x2="57.8" y2="100.77" stroke="#000" stroke-width="1"/>
<line x1="391.45" y1="100.77" x2="389.65" y2="100.77" stroke="#000" stroke-width="1"/>
<line x1="56" y1="80.25" x2="57.8" y2="80.25" stroke="#000" stroke-width="1"/>
<line x1="391.45" y1="80.25" x2="389.65" y2="80.25" stroke="#000" stroke-width="1"/>
<line x1="56" y1="65.68" x2="57.8" y2="65.68" stroke="#000" stroke-width="1"/>
<line x1="391.45" y1="65.68" x2="389.65" y2="65.68" stroke="#000" stroke-width="1"/>
<line x1="56" y1="54.39" x2="57.8" y2="54.39" stroke="#000" stroke-width="1"/>
<line x1="391.45" y1="54.39" x2="389.65" y2="54.39" stroke="#000" stroke-width="1"/>
<line x1="56" y1="45.16" x2="57.8" y2="45.16" stroke="#000" stroke-width="1"/>
<line x1="391.45" y1="45.16" x2="389.65" y2="45.16" stroke="#000" stroke-width="1"/>
<line x1="56" y1="37.36" x2="57.8" y2="37.36" stroke="#000" stroke-width="1"/>
<line x1="391.45" y1="37.36" x2="389.65" y2="37.36" stroke="#000" stroke-width="1"/>
<rect x="56" y="30.6" width="335.45" height="221.8" fill="none" stroke="#000" stroke-width="1"/>
</g>
<g>
<text transform="translate(223.6,19) scale(1,1.06)" text-anchor="middle" font-size="10.2">Model Group 1: Varying Magnetic Field</text>
<text transform="translate(223.6,282) scale(1,1.06)" text-anchor="middle" font-size="10.15">Flux Limit [mJy]</text>
<text transform="translate(56.9,266) scale(1,1.06)" text-anchor="middle" font-size="10.15">0.1</text>
<text transform="translate(147.59,266) scale(1,1.06)" text-anchor="middle" font-size="10.15">1</text>
<text transform="translate(238.27,266) scale(1,1.06)" text-anchor="middle" font-size="10.15">10</text>
<text transform="translate(328.96,266) scale(1,1.06)" text-anchor="middle" font-size="10.15">100</text>
<text transform="translate(49.4,256.1) scale(1,1.06)" text-anchor="end" font-size="10.15">1</text>
<text transform="translate(49.4,139.55) scale(1,1.06)" text-anchor="end" font-size="10.15">10</text>
<text transform="translate(23.5,141.2) rotate(-90) scale(1,1.06)" text-anchor="middle" font-size="10.25">Total number 0.0 &lt; z &lt; 0.2</text>
<text transform="translate(345.3,42.7) scale(1,1.06)" text-anchor="end" font-size="10.15">1A: &lt;B&gt;=0.2, b=0.650</text>
<line x1="351.2" y1="39.3" x2="379.2" y2="39.3" stroke="#ff0000" stroke-width="1.7"/>
<text transform="translate(345.3,52.8) scale(1,1.06)" text-anchor="end" font-size="10.15">1B: &lt;B&gt;=0.5, b=1.000</text>
<line x1="351.2" y1="49.5" x2="379.2" y2="49.5" stroke="#00ff00" stroke-width="1.7"/>
<text transform="translate(345.3,62.9) scale(1,1.06)" text-anchor="end" font-size="10.15">1C: &lt;B&gt;=1.5, b=0.800</text>
<line x1="351.2" y1="59.7" x2="379.2" y2="59.7" stroke="#0000ff" stroke-width="1.7"/>
<text transform="translate(345.3,73) scale(1,1.06)" text-anchor="end" font-size="10.15">1D: &lt;B&gt;=1.5, b=1.100</text>
<line x1="351.2" y1="69.9" x2="379.2" y2="69.9" stroke="#ff00ff" stroke-width="1.7"/>
<text transform="translate(345.3,83.1) scale(1,1.06)" text-anchor="end" font-size="10.15">1E: &lt;B&gt;=3.1, b=1.470</text>
<line x1="351.2" y1="80.1" x2="379.2" y2="80.1" stroke="#00ffff" stroke-width="1.7"/>
</g>
</svg>
</body></html>
